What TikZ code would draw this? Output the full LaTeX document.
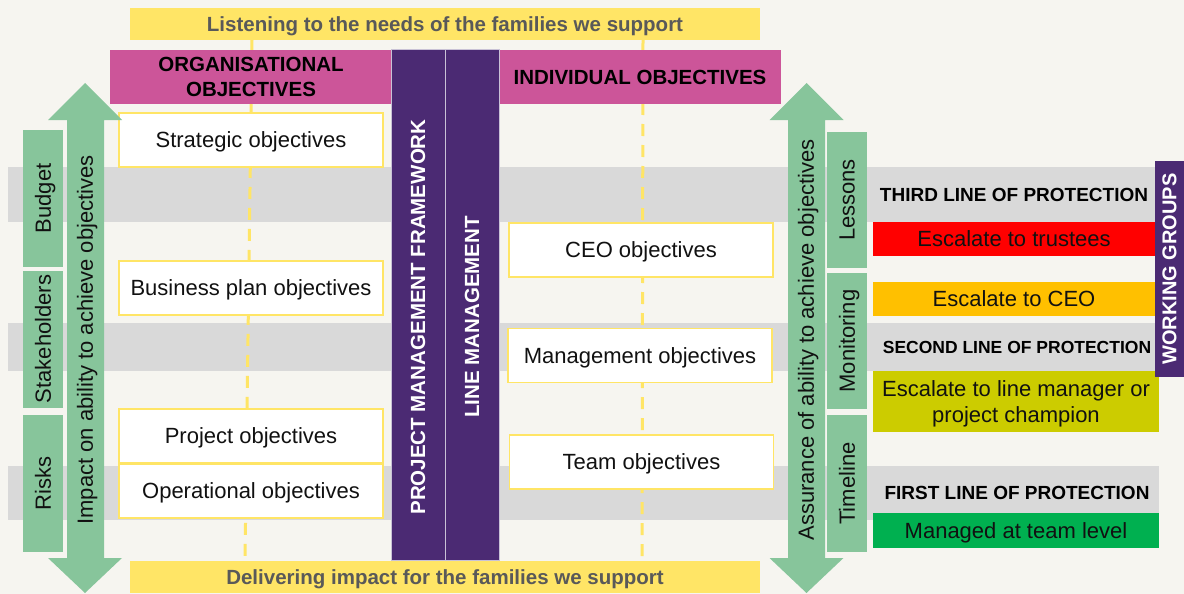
\documentclass[tikz,border=0pt]{standalone}
\usepackage{fontspec}
\setmainfont{Liberation Sans}
\definecolor{bg}{HTML}{F6F5F0}
\definecolor{yel}{HTML}{FFE566}
\definecolor{pinkhead}{HTML}{CC5599}
\definecolor{purp}{HTML}{4B2A73}
\definecolor{colsep}{HTML}{C9C2D6}
\definecolor{grn}{HTML}{87C59B}
\definecolor{band}{HTML}{D9D9D9}
\definecolor{bantxt}{HTML}{595959}
\definecolor{escred}{HTML}{FF0000}
\definecolor{escorange}{HTML}{FFC000}
\definecolor{escolive}{HTML}{CCCC00}
\definecolor{escgreen}{HTML}{00B050}
\definecolor{ink}{HTML}{111111}
\begin{document}
\begin{tikzpicture}[x=1pt,y=-1pt,
 every node/.style={inner sep=0pt, outer sep=0pt, text depth=0pt},
 reg/.style={font=\fontsize{22}{27}\selectfont, text=ink},
 bld/.style={font=\bfseries\fontsize{20.5}{25}\selectfont},
 banner/.style={fill=yel, minimum width=630pt, minimum height=32pt, bld, text=bantxt},
 header/.style={fill=pinkhead, minimum width=282pt, minimum height=54pt, bld, text=black, align=center},
 column/.style={fill=purp, draw=colsep, line width=1pt, minimum width=54pt, minimum height=510pt},
 coltext/.style={bld, text=white, rotate=90},
 objbox/.style={fill=white, draw=yel, line width=1.2pt, minimum width=264pt, minimum height=54pt, reg},
 tagbox/.style={fill=grn, minimum width=137pt, minimum height=40pt, rotate=90, reg},
 lineprot/.style={font=\bfseries\fontsize{19}{23}\selectfont, text=black},
 esc/.style={minimum width=282pt, minimum height=34pt, reg, align=center},
 dashy/.style={draw=yel, line width=3pt, dash pattern=on 12pt off 9pt},
 bigarrow/.style={fill=grn},
 arrowtext/.style={reg, rotate=90},
]
\useasboundingbox (0,0) rectangle (1184,594);
\fill[bg] (0,0) rectangle (1184,594);

% grey bands
\fill[band] (8,167) rectangle (1159,222);
\fill[band] (8,323) rectangle (1159,371);
\fill[band] (8,466) rectangle (1159,520);

% banners
\node[banner] (top) at (445,24) {Listening to the needs of the families we support};
\node[banner] (bottom) at (445,577) {Delivering impact for the families we support};

% dashed guide lines
\draw[dashy] ([xshift=-193pt]top.south) -- ([xshift=-200pt]bottom.north);
\draw[dashy] ([xshift=198pt]top.south) -- ([xshift=197pt]bottom.north);

% headers
\node[header] (orghead) at (251,77) {ORGANISATIONAL\\OBJECTIVES};
\node[header] (indhead) at (640,77) {INDIVIDUAL OBJECTIVES};

% purple columns
\node[column] (pmf) at (418,305) {};
\node[column] (lm) at (472,305) {};
\node[coltext] (pmft) at (418,317) {PROJECT MANAGEMENT FRAMEWORK};
\node[coltext] (lmt) at (472,317) {LINE MANAGEMENT};

% objective boxes
\node[objbox] (strat) at (251,140) {Strategic objectives};
\node[objbox] (bplan) at (251,288) {Business plan objectives};
\node[objbox] (proj) at (251,436) {Project objectives};
\node[objbox] (oper) at (251,491) {Operational objectives};
\node[objbox] (ceo) at (641,250) {CEO objectives};
\node[objbox] (mgmt) at (640,355.5) {Management objectives};
\node[objbox] (team) at (641.5,462) {Team objectives};

% big arrows
\fill[bigarrow] (85,83) -- (122,120) -- (104,120) -- (104,558) -- (122,558) -- (85,593)
  -- (48,558) -- (67,558) -- (67,120) -- (48,120) -- cycle;
\node[arrowtext] (impact) at (85,340) {Impact on ability to achieve objectives};
\fill[bigarrow] (806.5,83) -- (843.5,120) -- (825,120) -- (825,558) -- (843.5,558) -- (806.5,593)
  -- (769.5,558) -- (788,558) -- (788,120) -- (769.5,120) -- cycle;
\node[arrowtext] (assur) at (806,340) {Assurance of ability to achieve objectives};

% left tags
\node[tagbox] (budget) at (43,198.5) {Budget};
\node[tagbox] (stake) at (43,339) {Stakeholders};
\node[tagbox] (risks) at (43,483.5) {Risks};
% right tags
\node[tagbox, minimum width=136pt] (lessons) at (847,200) {Lessons};
\node[tagbox, minimum width=136pt] (monit) at (847,341) {Monitoring};
\node[tagbox] (timeline) at (847,483.5) {Timeline};

% lines of protection
\node[lineprot] (third) at (1014,195) {THIRD LINE OF PROTECTION};
\node[esc, fill=escred] (trust) at (1014,239) {Escalate to trustees};
\node[esc, fill=escorange] (toceo) at (1014,299) {Escalate to CEO};
\node[lineprot, font=\bfseries\fontsize{17.5}{21}\selectfont] (second) at (1017,347) {SECOND LINE OF PROTECTION};
\node[esc, fill=escolive, minimum width=286pt, minimum height=61pt, font=\fontsize{22}{26}\selectfont] (tolm) at (1016,401.5) {Escalate to line manager or\\project champion};
\node[lineprot] (first) at (1017,493) {FIRST LINE OF PROTECTION};
\node[esc, fill=escgreen, minimum width=286pt, minimum height=35pt] (teamlvl) at (1016,530.5) {Managed at team level};

% working groups
\node[fill=purp, minimum width=216pt, minimum height=29pt, rotate=90, bld, text=white, font=\bfseries\fontsize{20}{24}\selectfont] (wg) at (1169.5,269) {WORKING GROUPS};
\end{tikzpicture}
\end{document}
